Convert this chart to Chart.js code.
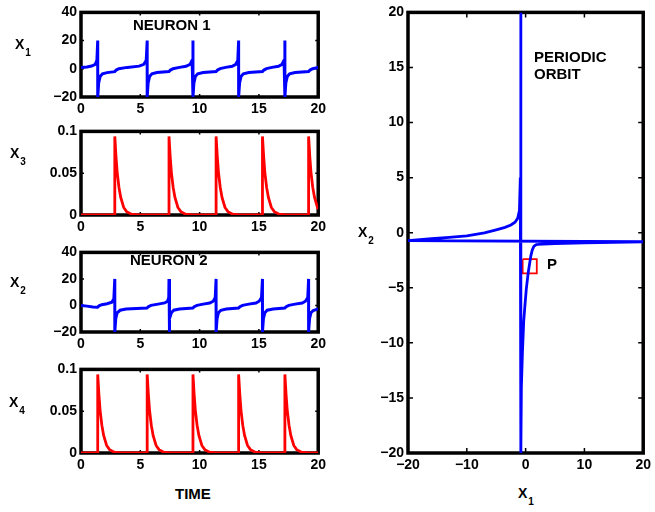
<!DOCTYPE html>
<html>
<head>
<meta charset="utf-8">
<script src="https://cdn.jsdelivr.net/npm/chart.js@4.4.1/dist/chart.umd.min.js"></script>
<style>
  body { margin: 0; background: #fff; }
  #fig { position: relative; width: 655px; height: 512px; overflow: hidden; background: #fff;
         font-family: "Liberation Sans", Arial, Helvetica, sans-serif; font-weight: bold; color: #000; }
  #fig canvas { position: absolute; }
  .lbl { position: absolute; font-size: 15px; line-height: 1; white-space: nowrap; }
  .ax { position: absolute; font-size: 14px; line-height: 1; white-space: nowrap; }
  .ax sub { font-size: 10px; vertical-align: baseline; position: relative; top: 7px; margin-left: 1px; }
</style>
</head>
<body>
<div id="fig">
  <canvas id="cX1" width="330" height="119" style="left:0;top:0"></canvas>
  <canvas id="cX3" width="330" height="118" style="left:0;top:119px"></canvas>
  <canvas id="cX2" width="330" height="114" style="left:0;top:240px"></canvas>
  <canvas id="cX4" width="330" height="118" style="left:0;top:357px"></canvas>
  <canvas id="cPhase" width="315" height="475" style="left:340px;top:0"></canvas>

  <div class="ax" style="left:15px;top:37px">X<sub>1</sub></div>
  <div class="ax" style="left:10px;top:146px">X<sub>3</sub></div>
  <div class="ax" style="left:10px;top:275px">X<sub>2</sub></div>
  <div class="ax" style="left:9px;top:395px">X<sub>4</sub></div>
  <div class="ax" style="left:358px;top:225px">X<sub>2</sub></div>
  <div class="ax" style="left:518px;top:486px">X<sub>1</sub></div>

  <div class="lbl" style="left:133px;top:17px">NEURON 1</div>
  <div class="lbl" style="left:130px;top:252px">NEURON 2</div>
  <div class="lbl" style="left:175px;top:486px">TIME</div>
  <div class="lbl" style="left:534px;top:49px">PERIODIC</div>
  <div class="lbl" style="left:534px;top:66px">ORBIT</div>
  <div class="lbl" style="left:547px;top:256px">P</div>
</div>
<script>
// tick labels
var timeTicks = [0, 5, 10, 15, 20];
var voltTicks = [-20, 0, 20, 40];
var synTicks = [0, 0.05, 0.1];
var phaseXTicks = [-20, -10, 0, 10, 20];
var phaseYTicks = [-20, -15, -10, -5, 0, 5, 10, 15, 20];

// neuron 1 (x1)
var x1T = [0, 0.5, 0.9, 1.2, 1.34, 1.41,
    1.41, 1.49, 1.61, 1.81, 2.2, 2.85, 2.97, 3.19, 3.9, 4.9, 5.3, 5.5, 5.58,
    5.58, 5.66, 5.78, 5.98, 6.4, 7.42, 7.54, 7.76, 8.3, 8.85, 9.2, 9.37, 9.44,
    9.44, 9.52, 9.64, 9.84, 10.3, 11.39, 11.51, 11.73, 12.2, 12.75, 13.05, 13.22, 13.29,
    13.29, 13.37, 13.49, 13.69, 14.15, 15.3, 15.42, 15.64, 16.1, 16.65, 16.95, 17.12, 17.19,
    17.19, 17.27, 17.39, 17.59, 18.05, 19.19, 19.31, 19.53, 20];
var x1V = [1.0, 1.3, 2.0, 3.2, 6.0, 20,
    -20, -10, -5.5, -3.6, -2.7, -2.0, -0.9, 0.1, 1.0, 1.9, 3.2, 6.0, 20,
    -20, -10, -5.5, -3.6, -2.7, -2.0, -0.9, 0.1, 1.0, 1.8, 3.2, 6.0, 20,
    -20, -10, -5.5, -3.6, -2.7, -2.0, -0.9, 0.1, 1.0, 1.8, 3.2, 6.0, 20,
    -20, -10, -5.5, -3.6, -2.7, -2.0, -0.9, 0.1, 1.0, 1.8, 3.2, 6.0, 20,
    -20, -10, -5.5, -3.6, -2.7, -2.0, -0.9, 0.1, 0.9];

// neuron 2 (x2)
var x2T = [0, 0.5, 1.0, 1.4, 1.52, 1.75, 2.2, 2.6, 2.77, 2.85,
    2.85, 2.93, 3.05, 3.3, 3.8, 5.56, 5.68, 5.9, 6.5, 7.05, 7.3, 7.4, 7.42,
    7.42, 7.5, 7.62, 7.82, 8.3, 9.43, 9.55, 9.78, 10.3, 10.85, 11.15, 11.32, 11.39,
    11.39, 11.47, 11.59, 11.79, 12.25, 13.28, 13.4, 13.62, 14.15, 14.75, 15.02, 15.22, 15.3,
    15.3, 15.38, 15.5, 15.7, 16.2, 17.18, 17.3, 17.52, 18.05, 18.65, 18.92, 19.12, 19.19,
    19.19, 19.27, 19.39, 19.58, 20];
var x2V = [0, -0.5, -1.2, -1.3, -0.3, 0.6, 1.3, 2.4, 5.0, 20,
    -20, -10, -5.5, -3.6, -2.7, -2.0, -0.9, 0.1, 1.0, 1.9, 3.2, 6.0, 20,
    -20, -10, -5.5, -3.6, -2.7, -2.0, -0.9, 0.1, 1.0, 1.8, 3.2, 6.0, 20,
    -20, -10, -5.5, -3.6, -2.7, -2.0, -0.9, 0.1, 1.0, 1.8, 3.2, 6.0, 20,
    -20, -10, -5.5, -3.6, -2.7, -2.0, -0.9, 0.1, 1.0, 1.8, 3.2, 6.0, 20,
    -20, -10, -5.5, -3.8, -2.6];

// synapse x3 (fires with neuron 2)
var x3T = [0, 2.85, 2.85, 2.95, 3.05, 3.2, 3.35, 3.6, 3.85, 4.25, 4.85,
    7.42, 7.42, 7.52, 7.62, 7.77, 7.92, 8.17, 8.42, 8.82, 9.42,
    11.39, 11.39, 11.49, 11.59, 11.74, 11.89, 12.14, 12.39, 12.79, 13.39,
    15.3, 15.3, 15.4, 15.5, 15.65, 15.8, 16.05, 16.3, 16.7, 17.3,
    19.19, 19.19, 19.29, 19.39, 19.54, 19.69, 19.94, 20];
var x3V = [0, 0, 0.094, 0.070, 0.051, 0.033, 0.021, 0.009, 0.004, 0.001, 0,
    0, 0.094, 0.070, 0.051, 0.033, 0.021, 0.009, 0.004, 0.001, 0,
    0, 0.094, 0.070, 0.051, 0.033, 0.021, 0.009, 0.004, 0.001, 0,
    0, 0.094, 0.070, 0.051, 0.033, 0.021, 0.009, 0.004, 0.001, 0,
    0, 0.094, 0.070, 0.051, 0.033, 0.021, 0.009, 0.007];

// synapse x4 (fires with neuron 1)
var x4T = [0, 1.41, 1.41, 1.51, 1.61, 1.76, 1.91, 2.16, 2.41, 2.81, 3.41,
    5.58, 5.58, 5.68, 5.78, 5.93, 6.08, 6.33, 6.58, 6.98, 7.58,
    9.44, 9.44, 9.54, 9.64, 9.79, 9.94, 10.19, 10.44, 10.84, 11.44,
    13.29, 13.29, 13.39, 13.49, 13.64, 13.79, 14.04, 14.29, 14.69, 15.29,
    17.19, 17.19, 17.29, 17.39, 17.54, 17.69, 17.94, 18.19, 18.59, 19.19, 20];
var x4V = [0, 0, 0.094, 0.070, 0.051, 0.033, 0.021, 0.009, 0.004, 0.001, 0,
    0, 0.094, 0.070, 0.051, 0.033, 0.021, 0.009, 0.004, 0.001, 0,
    0, 0.094, 0.070, 0.051, 0.033, 0.021, 0.009, 0.004, 0.001, 0,
    0, 0.094, 0.070, 0.051, 0.033, 0.021, 0.009, 0.004, 0.001, 0,
    0, 0.094, 0.070, 0.051, 0.033, 0.021, 0.009, 0.004, 0.001, 0, 0];

// periodic orbit in the (x1, x2) plane, one loop
var orbitX = [2.0, 5, 10, 15, 20,
    -20, -16, -13, -10, -7, -5, -3.5, -2.5, -1.8, -1.35, -1.05, -0.9, -0.82,
    -0.8, -0.72, -0.55, -0.32, -0.1, 0.12, 0.45, 0.89, 1.15, 1.4, 1.7, 2.0];
var orbitY = [-1.06, -1.0, -0.93, -0.87, -0.82,
    -0.72, -0.55, -0.42, -0.28, -0.02, 0.26, 0.48, 0.7, 0.95, 1.3, 2.0, 5, 20,
    -20, -14, -11, -8, -6.5, -5.1, -3.6, -2.1, -1.55, -1.25, -1.12, -1.06];

// box P
var boxX = [-0.5, 1.9, 1.9, -0.5, -0.5];
var boxY = [-2.4, -2.4, -3.7, -3.7, -2.4];

var BLUE = '#0000ff', RED = '#ff0000';
var tickFont = { family: 'Liberation Sans', size: 14, weight: 'bold' };

function pairs(xs, ys) {
    return xs.map(function (v, i) { return { x: v, y: ys[i] }; });
}
function fmt(v) {
    return String(v).replace('-', '\u2212');
}

// matlab style frame with ticks pointing in, drawn under the data
var framePlugin = {
    id: 'frame',
    beforeDatasetsDraw: function (chart, args, opts) {
        var ctx = chart.ctx, a = chart.chartArea;
        var sx = chart.scales.x, sy = chart.scales.y;
        var len = opts.tick || 4;
        ctx.save();
        ctx.strokeStyle = '#000';
        ctx.lineWidth = 1.5;
        ctx.beginPath();
        sx.ticks.forEach(function (t) {
            var p = sx.getPixelForValue(t.value);
            ctx.moveTo(p, a.bottom); ctx.lineTo(p, a.bottom - len);
            ctx.moveTo(p, a.top); ctx.lineTo(p, a.top + len);
        });
        sy.ticks.forEach(function (t) {
            var p = sy.getPixelForValue(t.value);
            ctx.moveTo(a.left, p); ctx.lineTo(a.left + len, p);
            ctx.moveTo(a.right, p); ctx.lineTo(a.right - len, p);
        });
        ctx.stroke();
        ctx.lineWidth = 3.5;
        ctx.strokeRect(a.left, a.top, a.right - a.left, a.bottom - a.top);
        ctx.restore();
    }
};

function axis(min, max, tickList, fitFn) {
    return {
        type: 'linear', min: min, max: max,
        grid: { display: false, drawTicks: false },
        border: { display: false },
        afterBuildTicks: function (s) { s.ticks = tickList.map(function (v) { return { value: v }; }); },
        afterFit: fitFn,
        ticks: { padding: 4, color: '#000', font: tickFont, autoSkip: false, maxRotation: 0, callback: fmt }
    };
}

function makeChart(id, datasets, xr, yr, leftW, bottomH, padRight, tick) {
    new Chart(document.getElementById(id), {
        type: 'scatter',
        data: { datasets: datasets },
        options: {
            responsive: false, animation: false, devicePixelRatio: 1, events: [],
            layout: { autoPadding: false, padding: { top: 6, right: padRight, left: 0, bottom: 0 } },
            plugins: { legend: { display: false }, tooltip: { enabled: false }, frame: { tick: tick } },
            scales: {
                x: axis(xr[0], xr[1], xr[2], function (s) { s.height = bottomH; }),
                y: axis(yr[0], yr[1], yr[2], function (s) { s.width = leftW; })
            }
        },
        plugins: [framePlugin]
    });
}

function line(xs, ys, color, w) {
    return { data: pairs(xs, ys), showLine: true, borderColor: color, borderWidth: w,
             pointRadius: 0, fill: false, tension: 0 };
}

makeChart('cX1', [line(x1T, x1V, BLUE, 3)], [0, 20, timeTicks], [-20, 40, voltTicks], 81, 22, 10, 3);
makeChart('cX3', [line(x3T, x3V, RED, 2.8)], [0, 20, timeTicks], [0, 0.1, synTicks], 81, 22, 10, 3);
makeChart('cX2', [line(x2T, x2V, BLUE, 3)], [0, 20, timeTicks], [-20, 40, voltTicks], 81, 22, 10, 3);
makeChart('cX4', [line(x4T, x4V, RED, 2.8)], [0, 20, timeTicks], [0, 0.1, synTicks], 81, 22, 10, 3);
makeChart('cPhase', [line(orbitX, orbitY, BLUE, 2.8), line(boxX, boxY, RED, 1.8)],
    [-20, 20, phaseXTicks], [-20, 20, phaseYTicks], 68, 22, 8, 5);
</script>
</body>
</html>
